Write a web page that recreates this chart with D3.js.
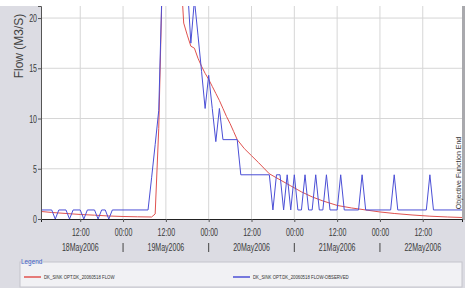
<!DOCTYPE html>
<html>
<head>
<meta charset="utf-8">
<script src="https://cdn.jsdelivr.net/npm/d3@7"></script>
<style>
  body { margin: 0; background: #fff; }
  svg { display: block; font-family: "Liberation Sans", Arial, sans-serif; }
</style>
</head>
<body>
<div id="chart"></div>
<script>
// hours after 18May2006 00:00, flow in m3/s
var simHours = [1, 4, 8, 12, 16, 20, 24, 28, 32,
  33, 34, 35, 36, 37, 38, 39, 40, 41, 42, 43, 44, 45, 46, 47, 48, 49, 50, 51, 52, 53, 54, 55, 56,
  58, 60, 62, 65, 68, 71, 74, 77, 80, 84, 88, 92, 96, 100, 105, 110, 115, 119];
var simFlow = [0.75, 0.65, 0.55, 0.45, 0.38, 0.3, 0.25, 0.22, 0.2,
  0.5, 9, 24, 33, 38, 37, 32, 25.5, 19.5, 18.3, 17.2, 17.0, 16.0, 15.2, 14.5, 13.9, 13.2, 12.5, 11.8, 11.0, 10.2, 9.5, 8.7, 7.9,
  7.0, 6.3, 5.6, 4.5, 3.9, 3.3, 2.7, 2.2, 1.8, 1.35, 1.1, 0.9, 0.7, 0.55, 0.4, 0.28, 0.2, 0.15];

var obsHours = [1, 4, 5, 6, 8, 9, 10, 12, 13, 14, 16, 17, 18, 19, 20, 21,
  31, 32, 33, 34, 35, 36, 37, 38, 39, 40, 41, 42, 43, 44, 45, 46, 47, 48, 49, 50, 51, 52,
  56, 57, 65,
  66, 67, 68, 69, 70, 71, 72, 73, 74, 75, 76, 77, 78, 79, 80, 81, 82,
  84, 85, 86, 90, 91, 92, 99, 100, 101, 109, 110, 111, 119];
var obsFlow = [0.9, 0.9, 0, 0.9, 0.9, 0, 0.9, 0.9, 0, 0.9, 0.9, 0, 0.9, 0.9, 0, 0.9,
  0.9, 4.1, 7.4, 10.8, 24, 34, 40, 42, 41, 36, 29.5, 23.5, 17.5, 21.8, 18.3, 14.7, 11, 14.3, 11, 7.7, 11, 7.9,
  7.9, 4.4, 4.4,
  0.9, 4.4, 4.4, 0.9, 4.4, 0.9, 4.4, 0.9, 0.9, 4.4, 0.9, 0.9, 4.4, 0.9, 0.9, 4.4, 0.9,
  0.9, 4.4, 0.9, 0.9, 4.4, 0.9, 0.9, 4.4, 0.9, 0.9, 4.4, 0.9, 0.9];

var yTicks = [0, 5, 10, 15, 20];
var dayLabels = ['18May2006', '19May2006', '20May2006', '21May2006', '22May2006'];
var seriesNames = ['DK_SINK OPT.DK_20060518 FLOW', 'DK_SINK OPT.DK_20060518 FLOW-OBSERVED'];
var seriesColors = ['#e0524f', '#4b4fd6'];

var W = 467, H = 288,
    plotL = 41, plotR = 462, plotT = 6, plotB = 219,
    squeeze = 0.64;

var start = new Date(2006, 4, 18, 0, 0),
    hour = function( h ) { return d3.timeHour.offset( start, h ); };

var x = d3.scaleTime()
  .domain([ hour(1), hour(119) ])
  .range([ plotL, plotR ]);

var y = d3.scaleLinear()
  .domain([ 0, 21.2 ])
  .range([ plotB, plotT ]);

var svg = d3.select('#chart').append('svg')
  .attr('width', W)
  .attr('height', H);

// grey panel and white plot area
svg.append('rect')
  .attr('x', 0).attr('y', plotT)
  .attr('width', 465).attr('height', H - plotT)
  .attr('fill', '#dcdce3');

svg.append('rect')
  .attr('x', plotL).attr('y', plotT)
  .attr('width', plotR - plotL).attr('height', plotB - plotT)
  .attr('fill', '#fff');

// grid
var halfDays = d3.timeHour.every(12).range( hour(1), hour(119) );

svg.append('g')
  .selectAll('line')
  .data( halfDays )
  .enter().append('line')
    .attr('x1', function(d) { return x(d); })
    .attr('x2', function(d) { return x(d); })
    .attr('y1', plotT).attr('y2', plotB)
    .attr('stroke', '#d6d6d6');

svg.append('g')
  .selectAll('line')
  .data( yTicks.slice(1) )
  .enter().append('line')
    .attr('x1', plotL).attr('x2', plotR)
    .attr('y1', function(d) { return y(d); })
    .attr('y2', function(d) { return y(d); })
    .attr('stroke', '#d6d6d6');

// series
svg.append('clipPath').attr('id', 'plot')
  .append('rect')
  .attr('x', plotL).attr('y', plotT)
  .attr('width', plotR - plotL).attr('height', plotB - plotT);

var line = d3.line()
  .x(function(d) { return x( hour( d[0] ) ); })
  .y(function(d) { return y( d[1] ); });

var series = [ d3.zip( simHours, simFlow ), d3.zip( obsHours, obsFlow ) ];

svg.append('g')
  .attr('clip-path', 'url(#plot)')
  .selectAll('path')
  .data( series )
  .enter().append('path')
    .attr('d', line)
    .attr('fill', 'none')
    .attr('stroke', function(d, i) { return seriesColors[i]; })
    .attr('stroke-width', 1);

// right end marker
svg.append('rect')
  .attr('x', plotR).attr('y', plotT)
  .attr('width', 3).attr('height', plotB - plotT + 1)
  .attr('fill', '#a9a9ad');

svg.append('text')
  .attr('transform', 'translate(' + (plotR - 1) + ',173) rotate(-90)')
  .attr('text-anchor', 'middle')
  .attr('font-size', 7)
  .attr('fill', '#333')
  .text('Objective Function End');

// axes
var xAxis = svg.append('g')
  .attr('transform', 'translate(0,' + plotB + ')')
  .call( d3.axisBottom( x )
    .tickValues( halfDays )
    .tickSize( 3 )
    .tickFormat( d3.timeFormat('%H:%M') ) );

xAxis.select('.domain').attr('stroke', '#222');
xAxis.selectAll('.tick line').attr('stroke', '#555');
xAxis.selectAll('text')
  .attr('font-size', 11)
  .attr('font-family', null)
  .attr('fill', '#3a3a3a')
  .attr('y', 9)
  .attr('transform', 'scale(' + squeeze + ',1)');

var yAxis = svg.append('g')
  .attr('transform', 'translate(' + plotL + ',0)')
  .call( d3.axisLeft( y )
    .tickValues( yTicks )
    .tickSize( 3 ) );

yAxis.select('.domain').attr('stroke', '#555');
yAxis.selectAll('.tick line').attr('stroke', '#555');
yAxis.selectAll('text')
  .attr('font-size', 11)
  .attr('font-family', null)
  .attr('fill', '#3a3a3a')
  .attr('x', -4 / squeeze)
  .attr('transform', 'scale(' + squeeze + ',1)');

// day labels at noon, separators at midnight
svg.append('g')
  .selectAll('text')
  .data( dayLabels )
  .enter().append('text')
    .attr('transform', function(d, i)
    {
      return 'translate(' + x( hour( 12 + i * 24 ) ) + ',251) scale(' + squeeze + ',1)';
    })
    .attr('text-anchor', 'middle')
    .attr('font-size', 11)
    .attr('fill', '#3a3a3a')
    .text(function(d) { return d; });

svg.append('g')
  .selectAll('line')
  .data( dayLabels.slice(1) )
  .enter().append('line')
    .attr('x1', function(d, i) { return x( hour( 24 + i * 24 ) ); })
    .attr('x2', function(d, i) { return x( hour( 24 + i * 24 ) ); })
    .attr('y1', 243).attr('y2', 252)
    .attr('stroke', '#444');

svg.append('text')
  .attr('transform', 'translate(23,46) rotate(-90)')
  .attr('text-anchor', 'middle')
  .attr('font-size', 12)
  .attr('fill', '#444')
  .text('Flow (M3/S)');

// legend
var lg = svg.append('g');

lg.append('rect')
  .attr('x', 20).attr('y', 262)
  .attr('width', plotR - 20).attr('height', 25)
  .attr('fill', '#f1f1f4')
  .attr('stroke', '#c4c4cc');

lg.append('rect')
  .attr('x', 21).attr('y', 257)
  .attr('width', 22).attr('height', 6)
  .attr('fill', '#dcdce3');

lg.append('text')
  .attr('transform', 'translate(21,264) scale(0.8,1)')
  .attr('font-size', 8)
  .attr('fill', '#3d5fc4')
  .text('Legend');

var items = lg.selectAll('g.item')
  .data( seriesNames )
  .enter().append('g')
    .attr('class', 'item')
    .attr('transform', function(d, i) { return 'translate(' + ( i ? 233 : 24 ) + ',277)'; });

items.append('line')
  .attr('x1', 0).attr('x2', 17)
  .attr('stroke', function(d, i) { return seriesColors[i]; })
  .attr('stroke-width', 1.5);

items.append('text')
  .attr('transform', 'translate(20,2) scale(0.72,1)')
  .attr('font-size', 6)
  .attr('fill', '#333')
  .text(function(d) { return d; });
</script>
</body>
</html>
